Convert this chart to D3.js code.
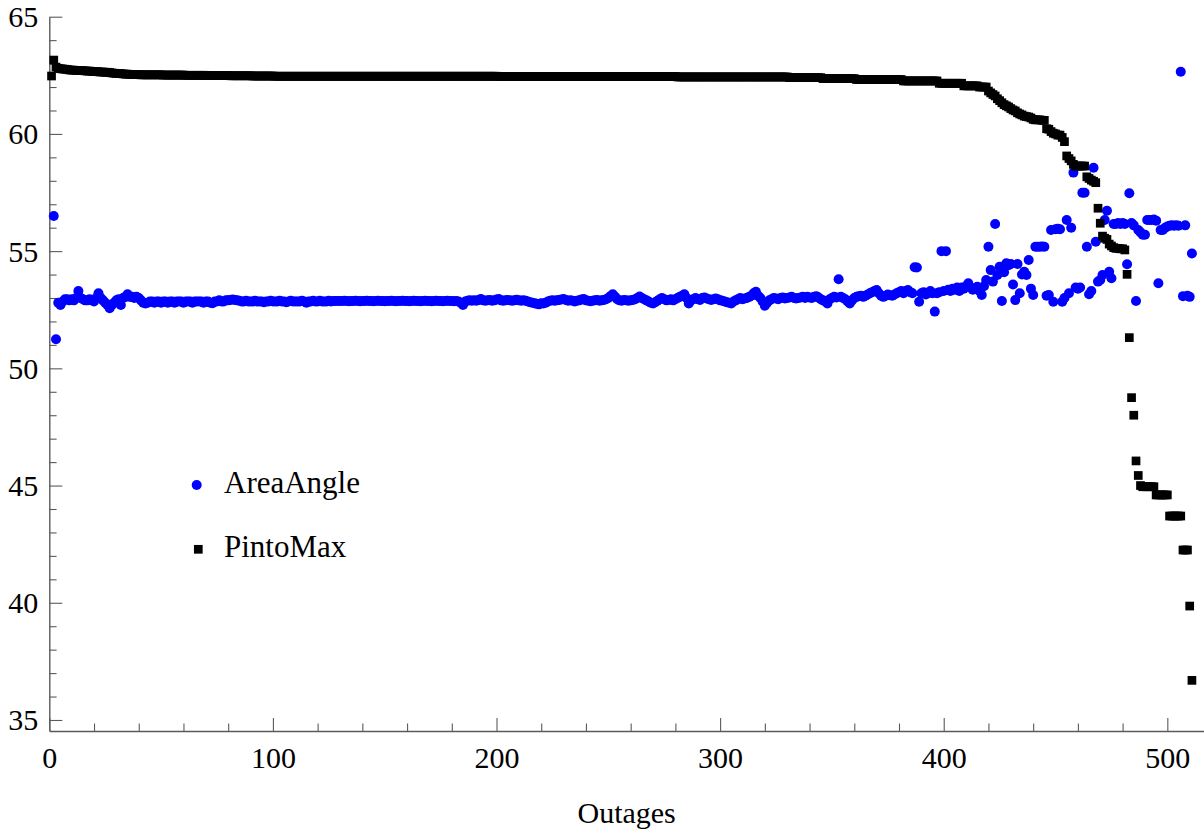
<!DOCTYPE html>
<html>
<head>
<meta charset="utf-8">
<script src="https://cdn.jsdelivr.net/npm/d3@7"></script>
<style>
  html, body { margin: 0; padding: 0; background: #fff; }
  svg { display: block; }
  text { font-family: "Liberation Serif", "Times New Roman", serif; fill: #000; }
</style>
</head>
<body>
<svg id="chart" width="1204" height="835"></svg>
<script>
// Axis ticks
const xMajorTicks = [0, 100, 200, 300, 400, 500];
const yMajorTicks = [35, 40, 45, 50, 55, 60, 65];
const seriesNames = ["AreaAngle", "PintoMax"];
const xTitle = "Outages";

// AreaAngle, one value per outage (1..511); null = outside the plotted range
const areaAngle = [
  null,56.5,51.24,52.8,52.7,52.85,52.95,52.95,52.9,52.95,
  52.9,53.0,53.3,53.0,52.95,52.9,52.9,52.95,52.9,52.85,
  53.0,53.2,53.0,52.9,52.8,52.7,52.56,52.7,52.8,52.9,
  52.95,52.7,53.0,53.05,53.16,53.05,53.05,53.0,53.05,53.0,
  52.9,52.8,52.77,52.8,52.85,52.85,52.8,52.85,52.85,52.8,
  52.85,52.85,52.8,52.85,52.85,52.8,52.85,52.85,52.85,52.8,
  52.85,52.85,52.85,52.8,52.85,52.85,52.85,52.85,52.8,52.85,
  52.85,52.8,52.78,52.85,52.85,52.9,52.85,52.85,52.9,52.9,
  52.92,52.94,52.92,52.9,52.88,52.85,52.85,52.88,52.85,52.85,
  52.85,52.88,52.85,52.85,52.85,52.82,52.85,52.85,52.88,52.85,
  52.85,52.85,52.88,52.85,52.85,52.82,52.85,52.88,52.85,52.85,
  52.85,52.85,52.88,52.85,52.8,52.85,52.85,52.88,52.85,52.85,
  52.88,52.85,52.85,52.85,52.88,52.85,52.87,52.87,52.87,52.87,
  52.87,52.88,52.87,52.86,52.87,52.87,52.88,52.87,52.86,52.87,
  52.87,52.88,52.87,52.87,52.86,52.87,52.88,52.87,52.87,52.86,
  52.87,52.87,52.88,52.87,52.86,52.87,52.87,52.88,52.87,52.87,
  52.86,52.87,52.88,52.87,52.87,52.86,52.87,52.88,52.87,52.87,
  52.86,52.87,52.88,52.87,52.87,52.86,52.87,52.88,52.87,52.87,
  52.86,52.87,52.85,52.8,52.7,52.85,52.88,52.9,52.88,52.9,
  52.88,52.92,52.96,52.9,52.88,52.9,52.92,52.88,52.9,52.94,
  52.96,52.9,52.88,52.9,52.92,52.9,52.88,52.9,52.93,52.9,
  52.88,52.9,52.88,52.85,52.82,52.8,52.78,52.75,52.73,52.78,
  52.77,52.8,52.85,52.88,52.9,52.88,52.9,52.92,52.94,52.96,
  52.92,52.88,52.9,52.88,52.85,52.88,52.9,52.94,52.96,52.9,
  52.88,52.86,52.88,52.9,52.91,52.88,52.9,52.92,52.95,53.0,
  53.08,53.16,53.05,52.95,52.9,52.88,52.91,52.9,52.88,52.9,
  52.92,52.95,53.0,53.06,53.0,52.95,52.9,52.85,52.8,52.77,
  52.82,52.88,52.95,53.0,52.95,52.9,52.92,52.95,52.9,52.95,
  53.0,53.05,53.1,53.16,53.0,52.77,52.9,52.95,53.0,52.95,
  52.92,53.0,53.02,52.98,52.95,52.92,52.95,52.98,52.95,52.9,
  52.88,52.85,52.82,52.8,52.77,52.85,52.9,52.95,53.0,52.95,
  52.98,53.0,53.05,53.1,53.2,53.27,53.1,53.0,52.85,52.67,
  52.8,52.9,52.95,53.0,52.98,52.95,53.0,53.02,52.98,53.0,
  53.02,53.05,53.0,52.98,53.0,53.02,53.05,53.0,53.05,53.02,
  53.0,53.05,53.08,53.02,52.95,52.9,52.85,52.77,52.95,53.0,
  53.05,53.02,53.8,53.05,53.0,52.95,52.85,52.77,52.9,53.0,
  53.05,53.08,53.1,53.05,53.1,53.15,53.2,53.25,53.3,53.34,
  53.2,53.1,53.05,53.1,53.15,53.12,53.1,53.15,53.2,53.25,
  53.3,53.2,53.3,53.34,53.25,53.2,54.31,54.3,52.84,53.2,
  53.25,53.15,53.2,53.3,53.2,52.42,53.2,53.25,55.0,53.3,
  55.0,53.35,53.3,53.4,53.35,53.45,53.3,53.45,53.4,53.5,
  53.63,53.45,53.35,53.4,53.48,53.3,53.13,53.5,53.77,55.19,
  54.19,53.7,56.16,53.98,54.33,52.87,54.1,54.48,54.4,54.45,
  53.58,52.91,54.45,53.2,54.0,54.12,53.98,54.62,53.4,53.13,
  55.19,55.19,55.19,55.2,55.19,53.1,53.13,55.9,52.84,55.93,
  55.95,55.93,52.84,53.0,56.33,53.2,56.0,58.35,53.45,53.4,
  53.45,57.49,57.49,55.19,53.16,53.3,58.56,55.4,53.7,53.77,
  53.98,56.33,56.72,54.12,53.84,56.16,56.16,56.2,56.16,56.2,
  56.16,54.44,57.47,56.2,56.1,52.87,55.9,55.8,55.7,55.7,
  56.33,56.33,56.33,56.35,56.3,53.63,55.9,55.9,56.0,56.05,
  56.08,56.1,56.08,56.1,56.08,62.65,53.08,56.1,53.1,53.05,
  54.9
];

// PintoMax, one value per outage (1..511)
const pintoMax = [
  62.47,63.15,62.85,62.80,62.78,62.77,62.76,62.75,62.73,62.72,
  62.72,62.71,62.71,62.70,62.70,62.69,62.68,62.68,62.67,62.66,
  62.66,62.65,62.64,62.64,62.63,62.63,62.62,62.60,62.59,62.58,
  62.58,62.57,62.56,62.55,62.55,62.54,62.54,62.53,62.53,62.53,
  62.52,62.52,62.52,62.52,62.52,62.52,62.52,62.52,62.52,62.52,
  62.51,62.51,62.51,62.51,62.51,62.51,62.51,62.51,62.51,62.51,
  62.50,62.50,62.50,62.50,62.50,62.50,62.50,62.50,62.50,62.50,
  62.49,62.49,62.49,62.49,62.49,62.49,62.49,62.49,62.49,62.49,
  62.48,62.48,62.48,62.48,62.48,62.48,62.48,62.48,62.48,62.48,
  62.47,62.47,62.47,62.47,62.47,62.47,62.47,62.47,62.47,62.47,
  62.46,62.46,62.46,62.46,62.46,62.46,62.46,62.46,62.46,62.46,
  62.46,62.46,62.46,62.46,62.46,62.46,62.46,62.46,62.46,62.46,
  62.46,62.46,62.46,62.46,62.46,62.46,62.46,62.46,62.46,62.46,
  62.46,62.46,62.46,62.46,62.46,62.46,62.46,62.46,62.46,62.46,
  62.46,62.46,62.46,62.46,62.46,62.46,62.46,62.46,62.46,62.46,
  62.46,62.46,62.46,62.46,62.46,62.46,62.46,62.46,62.46,62.46,
  62.46,62.46,62.46,62.46,62.46,62.46,62.46,62.46,62.46,62.46,
  62.46,62.46,62.46,62.46,62.46,62.46,62.46,62.46,62.46,62.46,
  62.46,62.46,62.46,62.46,62.46,62.46,62.46,62.46,62.46,62.46,
  62.46,62.46,62.46,62.46,62.46,62.46,62.46,62.46,62.46,62.46,
  62.45,62.45,62.45,62.45,62.45,62.45,62.45,62.45,62.45,62.45,
  62.45,62.45,62.45,62.45,62.45,62.45,62.45,62.45,62.45,62.45,
  62.45,62.45,62.45,62.45,62.45,62.45,62.45,62.45,62.45,62.45,
  62.45,62.45,62.45,62.45,62.45,62.45,62.45,62.45,62.45,62.45,
  62.45,62.45,62.45,62.45,62.45,62.45,62.45,62.45,62.45,62.45,
  62.45,62.45,62.45,62.45,62.45,62.45,62.45,62.45,62.45,62.45,
  62.45,62.45,62.45,62.45,62.45,62.45,62.45,62.45,62.45,62.45,
  62.45,62.45,62.45,62.45,62.45,62.45,62.45,62.45,62.45,62.45,
  62.43,62.43,62.43,62.43,62.43,62.43,62.43,62.43,62.43,62.43,
  62.43,62.43,62.43,62.43,62.43,62.43,62.43,62.43,62.43,62.43,
  62.43,62.43,62.43,62.43,62.43,62.43,62.43,62.43,62.43,62.43,
  62.43,62.43,62.43,62.43,62.43,62.43,62.43,62.43,62.43,62.43,
  62.43,62.43,62.43,62.43,62.43,62.43,62.43,62.43,62.43,62.43,
  62.40,62.40,62.40,62.40,62.40,62.40,62.40,62.40,62.40,62.40,
  62.40,62.40,62.40,62.40,62.40,62.36,62.36,62.36,62.36,62.36,
  62.36,62.36,62.36,62.36,62.36,62.36,62.36,62.36,62.36,62.36,
  62.32,62.32,62.32,62.32,62.32,62.32,62.32,62.32,62.32,62.32,
  62.32,62.32,62.32,62.32,62.32,62.32,62.32,62.32,62.32,62.32,
  62.32,62.26,62.26,62.26,62.26,62.26,62.26,62.26,62.26,62.26,
  62.26,62.26,62.26,62.26,62.26,62.26,62.26,62.16,62.16,62.16,
  62.16,62.16,62.16,62.16,62.16,62.16,62.16,62.16,62.05,62.05,
  62.05,62.05,62.05,62.05,62.05,62.00,62.00,62.00,62.00,61.83,
  61.75,61.68,61.62,61.50,61.42,61.33,61.25,61.20,61.15,61.08,
  61.02,60.98,60.90,60.85,60.81,60.76,60.74,60.72,60.68,60.62,
  60.60,60.60,60.60,60.58,60.58,60.22,60.20,60.10,60.03,60.00,
  59.95,59.95,59.85,59.67,59.06,58.95,58.85,58.70,58.63,58.63,
  58.63,58.63,58.63,58.17,58.10,58.03,57.98,57.92,56.83,56.19,
  55.64,55.55,55.50,55.30,55.22,55.15,55.12,55.12,55.10,55.10,
  55.05,54.01,51.31,48.75,48.00,46.05,45.43,45.00,44.95,44.95,
  44.95,44.95,44.95,44.95,44.60,44.60,44.60,44.60,44.60,44.60,
  43.70,43.70,43.70,43.70,43.70,43.70,42.25,42.25,42.25,39.86,
  36.69
];

const svg = d3.select("#chart");

const x = d3.scaleLinear().domain([0, 516.4]).range([49.3, 1204]);
const y = d3.scaleLinear().domain([34.53, 65]).range([731, 16.7]);

const axisColor = "#5a5a5a";
const fontSize = 30;

// minor ticks
const xMinor = d3.range(0, 517, 20).filter(v => v % 100 !== 0);
const yMinor = d3.range(35, 66, 1).filter(v => v % 5 !== 0);

const gx = svg.append("g").attr("transform", `translate(0,${y.range()[0]})`);
gx.call(d3.axisBottom(x).tickValues(xMinor).tickFormat("").tickSizeInner(-7.5).tickSizeOuter(0));
gx.call(g => g.select(".domain").remove());
const gxMajor = svg.append("g").attr("transform", `translate(0,${y.range()[0]})`)
  .call(d3.axisBottom(x).tickValues(xMajorTicks).tickSizeInner(-13).tickSizeOuter(0).tickFormat(d3.format("d")));
gxMajor.selectAll("text").attr("y", 37.3).attr("dy", null)
  .style("font-size", fontSize + "px").style("font-family", '"Liberation Serif", serif');

const gy = svg.append("g").attr("transform", `translate(${x.range()[0]},0)`);
gy.call(d3.axisLeft(y).tickValues(yMinor).tickFormat("").tickSizeInner(-7.3).tickSizeOuter(0));
gy.call(g => g.select(".domain").remove());
const gyMajor = svg.append("g").attr("transform", `translate(${x.range()[0]},0)`)
  .call(d3.axisLeft(y).tickValues(yMajorTicks).tickSizeInner(-13).tickSizeOuter(0).tickPadding(11).tickFormat(d3.format("d")));
gyMajor.selectAll("text").attr("dy", "0.33em")
  .style("font-size", fontSize + "px").style("font-family", '"Liberation Serif", serif');

svg.selectAll(".tick line").attr("stroke", axisColor).attr("stroke-width", 1.1);
svg.selectAll(".domain").attr("stroke", axisColor).attr("stroke-width", 1.4);
svg.selectAll(".tick text").attr("fill", "#000");

// axis title
svg.append("text")
  .attr("x", (x.range()[0] + x.range()[1]) / 2)
  .attr("y", 823.3)
  .attr("text-anchor", "middle")
  .style("font-size", fontSize + "px")
  .text(xTitle);

// data layers
const blueData = areaAngle.map((v, i) => ({ i: i + 1, v })).filter(d => d.v !== null);
const blackData = pintoMax.map((v, i) => ({ i: i + 1, v })).filter(d => d.v !== null);

const dotR = 5;
const sq = 8.7;

svg.append("g").selectAll("circle")
  .data(blueData).join("circle")
  .attr("cx", d => x(d.i))
  .attr("cy", d => y(d.v))
  .attr("r", dotR)
  .attr("fill", "#0000ff");

svg.append("g").selectAll("rect")
  .data(blackData).join("rect")
  .attr("x", d => x(d.i) - sq / 2)
  .attr("y", d => y(d.v) - sq / 2)
  .attr("width", sq)
  .attr("height", sq)
  .attr("fill", "#000");

// legend
const legend = svg.append("g");
legend.append("circle").attr("cx", 196.7).attr("cy", 485).attr("r", dotR).attr("fill", "#0000ff");
legend.append("text").attr("x", 224).attr("y", 492.7).style("font-size", "31px").text(seriesNames[0]);
legend.append("rect").attr("x", 198.3 - sq / 2).attr("y", 549.3 - sq / 2).attr("width", sq).attr("height", sq).attr("fill", "#000");
legend.append("text").attr("x", 224).attr("y", 556.7).style("font-size", "31px").text(seriesNames[1]);
</script>
</body>
</html>
